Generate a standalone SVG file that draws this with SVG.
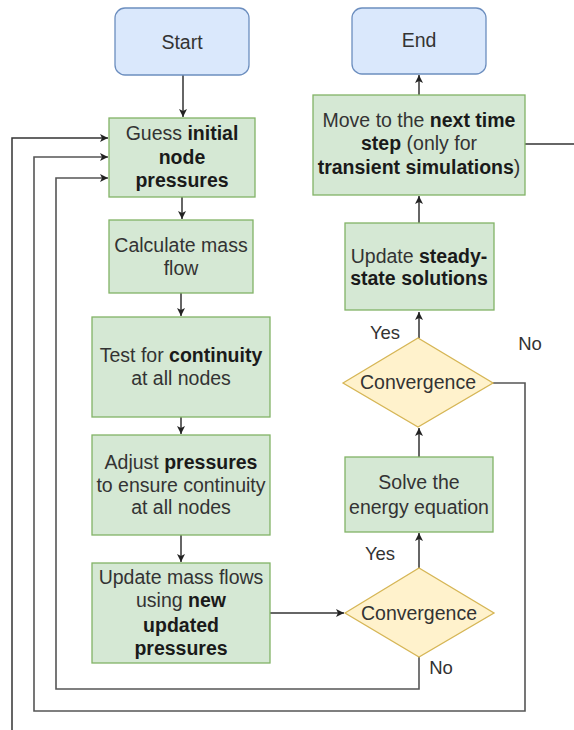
<svg xmlns="http://www.w3.org/2000/svg" width="574" height="730" viewBox="0 0 574 730">
<defs>
<marker id="ah" markerWidth="10" markerHeight="10" refX="9" refY="5" orient="auto" markerUnits="userSpaceOnUse">
<path d="M1,1 L9,5 L1,9 L3,5 Z" fill="#222"/>
</marker>
<style>
.term{fill:#dae8fc;stroke:#6c8ebf;stroke-width:1.3}
.proc{fill:#d5e8d4;stroke:#82b366;stroke-width:1.3}
.dec{fill:#fff2cc;stroke:#d6b656;stroke-width:1.3}
text{font-family:"Liberation Sans",Arial,sans-serif;font-size:19.5px;fill:#333;text-anchor:middle}
.b{font-weight:bold;fill:#1a1a1a}
.lbl{font-size:18.5px}
.c{fill:none;stroke:#333;stroke-width:1.5}
.loop{fill:none;stroke:#555;stroke-width:1.6}
</style>
</defs>
<rect width="574" height="730" fill="#fff"/>
<g id="connectors">
<line class="c" x1="183" y1="75" x2="183" y2="117" marker-end="url(#ah)"/>
<line class="c" x1="182" y1="197" x2="182" y2="219" marker-end="url(#ah)"/>
<line class="c" x1="181" y1="293" x2="181" y2="316" marker-end="url(#ah)"/>
<line class="c" x1="181" y1="417" x2="181" y2="434" marker-end="url(#ah)"/>
<line class="c" x1="181" y1="535" x2="181" y2="562" marker-end="url(#ah)"/>
<line class="c" x1="270" y1="613" x2="344" y2="613" marker-end="url(#ah)"/>
<line class="c" x1="419" y1="568" x2="419" y2="533" marker-end="url(#ah)"/>
<line class="c" x1="419" y1="457" x2="419" y2="428" marker-end="url(#ah)"/>
<line class="c" x1="419" y1="338" x2="419" y2="312" marker-end="url(#ah)"/>
<line class="c" x1="419" y1="223" x2="419" y2="196" marker-end="url(#ah)"/>
<line class="c" x1="419" y1="95" x2="419" y2="75" marker-end="url(#ah)"/>
<polyline class="loop" points="419,657 419,689 56,689 56,178 108,178" marker-end="url(#ah)"/>
<polyline class="loop" points="493,383 525,383 525,711 34,711 34,157 108,157" marker-end="url(#ah)"/>
<line class="c" x1="525" y1="144" x2="574" y2="144"/>
<polyline class="c" points="12,730 12,138 108,138" marker-end="url(#ah)"/>
<text class="lbl" x="385" y="339">Yes</text>
<text class="lbl" x="530" y="350">No</text>
<text class="lbl" x="380" y="560">Yes</text>
<text class="lbl" x="441" y="674">No</text>
</g>
<g id="start">
<rect class="term" x="115" y="8" width="134" height="67" rx="10"/>
<text x="182" y="49">Start</text>
</g>
<g id="end">
<rect class="term" x="352" y="8" width="134" height="66" rx="10"/>
<text x="419" y="47">End</text>
</g>
<g id="guess">
<rect class="proc" x="109" y="118" width="146" height="79"/>
<text x="182" y="140">Guess <tspan class="b">initial</tspan></text>
<text x="182" y="164" class="b">node</text>
<text x="182" y="187" class="b">pressures</text>
</g>
<g id="calc">
<rect class="proc" x="109" y="220" width="144" height="73"/>
<text x="181" y="252">Calculate mass</text>
<text x="181" y="275">flow</text>
</g>
<g id="test">
<rect class="proc" x="92" y="317" width="178" height="100"/>
<text x="181" y="362">Test for <tspan class="b">continuity</tspan></text>
<text x="181" y="385">at all nodes</text>
</g>
<g id="adjust">
<rect class="proc" x="92" y="435" width="178" height="100"/>
<text x="181" y="469">Adjust <tspan class="b">pressures</tspan></text>
<text x="181" y="492">to ensure continuity</text>
<text x="181" y="514">at all nodes</text>
</g>
<g id="updatemass">
<rect class="proc" x="92" y="563" width="178" height="100"/>
<text x="181" y="584">Update mass flows</text>
<text x="181" y="607">using <tspan class="b">new</tspan></text>
<text x="181" y="632" class="b">updated</text>
<text x="181" y="655" class="b">pressures</text>
</g>
<g id="conv1">
<polygon class="dec" points="345,613 419,568 494,613 419,657"/>
<text x="419" y="620">Convergence</text>
</g>
<g id="solve">
<rect class="proc" x="345" y="457" width="148" height="75"/>
<text x="419" y="489">Solve the</text>
<text x="419" y="514">energy equation</text>
</g>
<g id="conv2">
<polygon class="dec" points="343,383 418,338 493,383 418,427"/>
<text x="418" y="389">Convergence</text>
</g>
<g id="steady">
<rect class="proc" x="345" y="223" width="149" height="87"/>
<text x="419" y="263">Update <tspan class="b">steady-</tspan></text>
<text x="419" y="285" class="b">state solutions</text>
</g>
<g id="move">
<rect class="proc" x="313" y="95" width="212" height="100"/>
<text x="419" y="127">Move to the <tspan class="b">next time</tspan></text>
<text x="419" y="150"><tspan class="b">step</tspan> (only for</text>
<text x="419" y="174"><tspan class="b">transient simulations</tspan>)</text>
</g>
</svg>
